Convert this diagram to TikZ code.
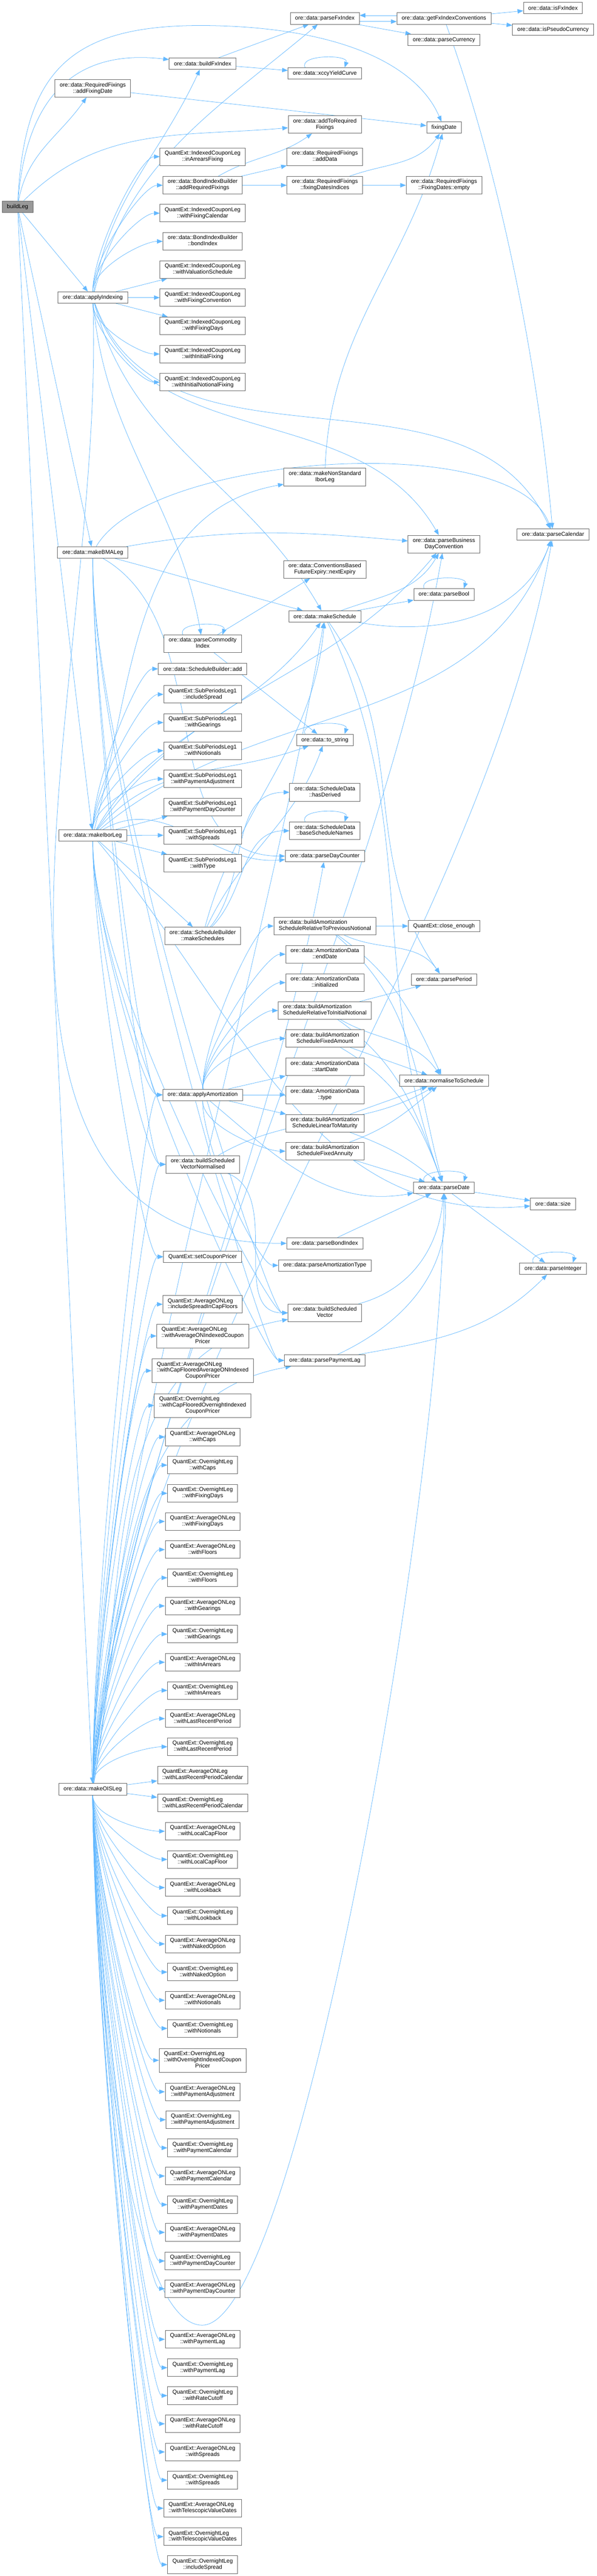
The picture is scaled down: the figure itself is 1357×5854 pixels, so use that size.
\documentclass[tikz,border=0pt]{standalone}
\usepackage{fontspec}
\setmainfont{Liberation Sans}
\usetikzlibrary{arrows.meta}
\pgfdeclarelayer{bg}
\pgfsetlayers{bg,main}
\definecolor{nodeline}{HTML}{666666}
\definecolor{calledge}{HTML}{63B8FF}
\definecolor{rootfill}{HTML}{999999}
\newcommand{\twoline}[2]{\begin{tabular}{@{}l@{}}#1\\\multicolumn{1}{@{}c@{}}{#2}\end{tabular}}
\newcommand{\threeline}[3]{\begin{tabular}{@{}l@{}}#1\\#2\\\multicolumn{1}{@{}c@{}}{#3}\end{tabular}}
\def\selfloop(#1){\draw[call] ([xshift=-11.25pt]#1.north) .. controls +(-15,-30) and +(10,-30) .. ([xshift=11.25pt]#1.north);}

\begin{document}
\begin{tikzpicture}[x=0.25pt, y=-0.25pt,
  fn/.style={draw=nodeline, fill=white, line width=0.25pt, inner xsep=2.75pt, inner ysep=0.25pt, minimum height=6.5pt, font=\fontsize{3.2}{3.5}\selectfont},
  fn2/.style={fn, minimum height=10pt},
  fn3/.style={fn, minimum height=13.5pt},
  root/.style={fn, fill=rootfill},
  call/.style={draw=calledge, line width=0.225pt, -{Triangle[length=3.25pt,width=2.5pt]}},
  every edge/.style={call},
  callup/.style={out=90, in=180, in distance=11.25pt, out looseness=0.7},
  calldown/.style={out=-90, in=180, in distance=11.25pt, out looseness=0.7}]
	%%%%% START %%%%%
	\useasboundingbox (0,0) rectangle (1357,5854);

	% root and first callees
	\node[root] (bl) at (40,470) {buildLeg};
	\node[fn2] (afd) at (211,201) {\twoline{ore::data::RequiredFixings}{::addFixingDate}};
	\node[fn] (ai) at (211,676) {ore::data::applyIndexing};
	\node[fn] (bma) at (211,1255.5) {ore::data::makeBMALeg};
	\node[fn] (ibor) at (211,1898.5) {ore::data::makeIborLeg};
	\node[fn] (ois) at (211,4066) {ore::data::makeOISLeg};

	% third column
	\node[fn] (bfx) at (461,144.5) {ore::data::buildFxIndex};
	\node[fn2] (inarr) at (461,356) {\twoline{QuantExt::IndexedCouponLeg}{::inArrearsFixing}};
	\node[fn2] (bari) at (461,421) {\twoline{ore::data::BondIndexBuilder}{::addRequiredFixings}};
	\node[fn2] (wfcal) at (461,484.5) {\twoline{QuantExt::IndexedCouponLeg}{::withFixingCalendar}};
	\node[fn2] (bidx) at (461,548.5) {\twoline{ore::data::BondIndexBuilder}{::bondIndex}};
	\node[fn2] (wvs) at (461,612.5) {\twoline{QuantExt::IndexedCouponLeg}{::withValuationSchedule}};
	\node[fn2] (wfconv) at (461,676.5) {\twoline{QuantExt::IndexedCouponLeg}{::withFixingConvention}};
	\node[fn2] (wfdays) at (461,740.5) {\twoline{QuantExt::IndexedCouponLeg}{::withFixingDays}};
	\node[fn2] (winit) at (461,804.5) {\twoline{QuantExt::IndexedCouponLeg}{::withInitialFixing}};
	\node[fn2] (winitn) at (461,868.5) {\twoline{QuantExt::IndexedCouponLeg}{::withInitialNotionalFixing}};
	\node[fn2] (pci) at (461,1463) {\twoline{ore::data::parseCommodity}{Index}};
	\node[fn] (sbadd) at (461,1520) {ore::data::ScheduleBuilder::add};
	\node[fn2] (spinc) at (461,1578) {\twoline{QuantExt::SubPeriodsLeg1}{::includeSpread}};
	\node[fn2] (spgear) at (461,1642) {\twoline{QuantExt::SubPeriodsLeg1}{::withGearings}};
	\node[fn2] (spnot) at (461,1706) {\twoline{QuantExt::SubPeriodsLeg1}{::withNotionals}};
	\node[fn2] (sppay) at (461,1770) {\twoline{QuantExt::SubPeriodsLeg1}{::withPaymentAdjustment}};
	\node[fn2] (spdc) at (461,1834) {\twoline{QuantExt::SubPeriodsLeg1}{::withPaymentDayCounter}};
	\node[fn2] (spspr) at (461,1898) {\twoline{QuantExt::SubPeriodsLeg1}{::withSpreads}};
	\node[fn2] (sptype) at (461,1962) {\twoline{QuantExt::SubPeriodsLeg1}{::withType}};
	\node[fn2] (msbs) at (461,2127) {\twoline{ore::data::ScheduleBuilder}{::makeSchedules}};
	\node[fn] (aa) at (461,2488) {ore::data::applyAmortization};
	\node[fn2] (bsvn) at (461,2646) {\twoline{ore::data::buildScheduled}{VectorNormalised}};
	\node[fn] (scp) at (461,2856) {QuantExt::setCouponPricer};
	\node[fn2] (aspcf) at (461,2964) {\twoline{QuantExt::AverageONLeg}{::includeSpreadInCapFloors}};
	\node[fn3] (aaonp) at (461,3036) {\threeline{QuantExt::AverageONLeg}{::withAverageONIndexedCoupon}{Pricer}};
	\node[fn3] (acfp) at (461,3115) {\threeline{QuantExt::AverageONLeg}{::withCapFlooredAverageONIndexed}{CouponPricer}};
	\node[fn3] (ocfp) at (461,3194) {\threeline{QuantExt::OvernightLeg}{::withCapFlooredOvernightIndexed}{CouponPricer}};
	\node[fn2] (acaps) at (461,3265.5) {\twoline{QuantExt::AverageONLeg}{::withCaps}};
	\node[fn2] (ocaps) at (461,3329.5) {\twoline{QuantExt::OvernightLeg}{::withCaps}};
	\node[fn2] (ofdays) at (461,3393.5) {\twoline{QuantExt::OvernightLeg}{::withFixingDays}};
	\node[fn2] (afdays) at (461,3457.5) {\twoline{QuantExt::AverageONLeg}{::withFixingDays}};
	\node[fn2] (aflo) at (461,3521.5) {\twoline{QuantExt::AverageONLeg}{::withFloors}};
	\node[fn2] (oflo) at (461,3585.5) {\twoline{QuantExt::OvernightLeg}{::withFloors}};
	\node[fn2] (agear) at (461,3649.5) {\twoline{QuantExt::AverageONLeg}{::withGearings}};
	\node[fn2] (ogear) at (461,3713.5) {\twoline{QuantExt::OvernightLeg}{::withGearings}};
	\node[fn2] (aarr) at (461,3777.5) {\twoline{QuantExt::AverageONLeg}{::withInArrears}};
	\node[fn2] (oarr) at (461,3841.5) {\twoline{QuantExt::OvernightLeg}{::withInArrears}};
	\node[fn2] (alrp) at (461,3905.5) {\twoline{QuantExt::AverageONLeg}{::withLastRecentPeriod}};
	\node[fn2] (olrp) at (461,3969.5) {\twoline{QuantExt::OvernightLeg}{::withLastRecentPeriod}};
	\node[fn2] (alrpc) at (461,4033.5) {\twoline{QuantExt::AverageONLeg}{::withLastRecentPeriodCalendar}};
	\node[fn2] (olrpc) at (461,4097.5) {\twoline{QuantExt::OvernightLeg}{::withLastRecentPeriodCalendar}};
	\node[fn2] (alcf) at (461,4161.5) {\twoline{QuantExt::AverageONLeg}{::withLocalCapFloor}};
	\node[fn2] (olcf) at (461,4225.5) {\twoline{QuantExt::OvernightLeg}{::withLocalCapFloor}};
	\node[fn2] (alook) at (461,4289.5) {\twoline{QuantExt::AverageONLeg}{::withLookback}};
	\node[fn2] (olook) at (461,4353.5) {\twoline{QuantExt::OvernightLeg}{::withLookback}};
	\node[fn2] (anaked) at (461,4417.5) {\twoline{QuantExt::AverageONLeg}{::withNakedOption}};
	\node[fn2] (onaked) at (461,4481.5) {\twoline{QuantExt::OvernightLeg}{::withNakedOption}};
	\node[fn2] (anot) at (461,4545.5) {\twoline{QuantExt::AverageONLeg}{::withNotionals}};
	\node[fn2] (onot) at (461,4609.5) {\twoline{QuantExt::OvernightLeg}{::withNotionals}};
	\node[fn3] (oonp) at (461,4682) {\threeline{QuantExt::OvernightLeg}{::withOvernightIndexedCoupon}{Pricer}};
	\node[fn2] (apadj) at (461,4753.5) {\twoline{QuantExt::AverageONLeg}{::withPaymentAdjustment}};
	\node[fn2] (opadj) at (461,4817) {\twoline{QuantExt::OvernightLeg}{::withPaymentAdjustment}};
	\node[fn2] (opcal) at (461,4881) {\twoline{QuantExt::OvernightLeg}{::withPaymentCalendar}};
	\node[fn2] (apcal) at (461,4945) {\twoline{QuantExt::AverageONLeg}{::withPaymentCalendar}};
	\node[fn2] (opdates) at (461,5010) {\twoline{QuantExt::OvernightLeg}{::withPaymentDates}};
	\node[fn2] (apdates) at (461,5073) {\twoline{QuantExt::AverageONLeg}{::withPaymentDates}};
	\node[fn2] (opdc) at (461,5138) {\twoline{QuantExt::OvernightLeg}{::withPaymentDayCounter}};
	\node[fn2] (apdc) at (461,5201) {\twoline{QuantExt::AverageONLeg}{::withPaymentDayCounter}};
	\node[fn2] (aplag) at (461,5316) {\twoline{QuantExt::AverageONLeg}{::withPaymentLag}};
	\node[fn2] (oplag) at (461,5380.5) {\twoline{QuantExt::OvernightLeg}{::withPaymentLag}};
	\node[fn2] (orc) at (461,5444) {\twoline{QuantExt::OvernightLeg}{::withRateCutoff}};
	\node[fn2] (arc) at (461,5508) {\twoline{QuantExt::AverageONLeg}{::withRateCutoff}};
	\node[fn2] (aspr) at (461,5572) {\twoline{QuantExt::AverageONLeg}{::withSpreads}};
	\node[fn2] (ospr) at (461,5636) {\twoline{QuantExt::OvernightLeg}{::withSpreads}};
	\node[fn2] (atvd) at (461,5700) {\twoline{QuantExt::AverageONLeg}{::withTelescopicValueDates}};
	\node[fn2] (otvd) at (461,5764.5) {\twoline{QuantExt::OvernightLeg}{::withTelescopicValueDates}};
	\node[fn2] (oinc) at (461,5828) {\twoline{QuantExt::OvernightLeg}{::includeSpread}};

	% fourth column
	\node[fn] (pfx) at (739,42) {ore::data::parseFxIndex};
	\node[fn] (xccy) at (739,167) {ore::data::xccyYieldCurve};
	\node[fn2] (atrf) at (739,283) {\twoline{ore::data::addToRequired}{Fixings}};
	\node[fn2] (adddata) at (739,356) {\twoline{ore::data::RequiredFixings}{::addData}};
	\node[fn2] (fdi) at (739,421) {\twoline{ore::data::RequiredFixings}{::fixingDatesIndices}};
	\node[fn2] (nsib) at (739,1084) {\twoline{ore::data::makeNonStandard}{IborLeg}};
	\node[fn2] (nexp) at (739,1294) {\twoline{ore::data::ConventionsBased}{FutureExpiry::nextExpiry}};
	\node[fn] (msch) at (739,1401) {ore::data::makeSchedule};
	\node[fn] (tostr) at (739,1681.5) {ore::data::to\_string};
	\node[fn2] (hasder) at (739,1800.5) {\twoline{ore::data::ScheduleData}{::hasDerived}};
	\node[fn2] (basen) at (739,1888) {\twoline{ore::data::ScheduleData}{::baseScheduleNames}};
	\node[fn] (pdc) at (739,1945.5) {ore::data::parseDayCounter};
	\node[fn2] (arprev) at (739,2104.5) {\twoline{ore::data::buildAmortization}{ScheduleRelativeToPreviousNotional}};
	\node[fn2] (aend) at (739,2168.5) {\twoline{ore::data::AmortizationData}{::endDate}};
	\node[fn2] (ainit) at (739,2233) {\twoline{ore::data::AmortizationData}{::initialized}};
	\node[fn2] (arinit) at (739,2296.5) {\twoline{ore::data::buildAmortization}{ScheduleRelativeToInitialNotional}};
	\node[fn2] (afixa) at (739,2360) {\twoline{ore::data::buildAmortization}{ScheduleFixedAmount}};
	\node[fn2] (astart) at (739,2424.5) {\twoline{ore::data::AmortizationData}{::startDate}};
	\node[fn2] (atype) at (739,2488) {\twoline{ore::data::AmortizationData}{::type}};
	\node[fn2] (alin) at (739,2552.5) {\twoline{ore::data::buildAmortization}{ScheduleLinearToMaturity}};
	\node[fn2] (aann) at (739,2616) {\twoline{ore::data::buildAmortization}{ScheduleFixedAnnuity}};
	\node[fn] (pbidx) at (739,2825.5) {ore::data::parseBondIndex};
	\node[fn] (pamt) at (739,2875.5) {ore::data::parseAmortizationType};
	\node[fn2] (bsv) at (739,2983.5) {\twoline{ore::data::buildScheduled}{Vector}};
	\node[fn] (plag) at (739,3091.5) {ore::data::parsePaymentLag};

	% fifth column
	\node[fn] (gfc) at (1010,42) {ore::data::getFxIndexConventions};
	\node[fn] (pcur) at (1010,91) {ore::data::parseCurrency};
	\node[fn] (fixd) at (1010,290) {fixingDate};
	\node[fn2] (fdempty) at (1010,421) {\twoline{ore::data::RequiredFixings}{::FixingDates::empty}};
	\node[fn2] (pbdc) at (1010,1236.5) {\twoline{ore::data::parseBusiness}{DayConvention}};
	\node[fn] (pbool) at (1010,1351) {ore::data::parseBool};
	\node[fn] (cleq) at (1010,2104.5) {QuantExt::close\_enough};
	\node[fn] (pper) at (1010,2226) {ore::data::parsePeriod};
	\node[fn] (nts) at (1010,2456) {ore::data::normaliseToSchedule};
	\node[fn] (pdate) at (1010,2699) {ore::data::parseDate};

	% last column
	\node[fn] (isfx) at (1258,18) {ore::data::isFxIndex};
	\node[fn] (ispc) at (1258,67) {ore::data::isPseudoCurrency};
	\node[fn] (pcal) at (1258,1215) {ore::data::parseCalendar};
	\node[fn] (size) at (1258,2736) {ore::data::size};
	\node[fn] (pint) at (1258,2883) {ore::data::parseInteger};

	\begin{pgfonlayer}{bg}
	% buildLeg
	\draw[call] (bl) .. controls (55,160) and (160,55) .. (470,58) .. controls (780,62) and (950,150) .. (fixd);
	\draw[call] (bl) .. controls (60,220) and (170,110) .. (bfx);
	\path (bl) edge[out=80,in=-125] (afd) edge[out=45,in=185] (atrf) edge (ai) edge (bma) edge (ibor) edge (ois);

	% applyIndexing
	\path (ai) edge[out=80,in=-115] (bfx) edge[out=75,in=-140] (pfx)
		edge[callup] (inarr) edge[callup] (bari) edge[callup] (wfcal) edge[callup] (bidx) edge (wvs)
		edge (wfconv) edge (wfdays) edge[calldown] (winit) edge[calldown] (winitn)
		edge[out=-70,in=115] (pcal) edge[out=-72,in=120] (pbdc) edge[out=-75,in=120] (msch)
		edge[out=-85,in=100] (pci) edge[out=-88,in=180] (pbidx);

	% makeBMALeg
	\path (bma) edge[out=60,in=110,looseness=0.6] (pcal) edge[out=10,in=175] (pbdc) edge[out=-15,in=165] (msch)
		edge[out=-30,in=180] (pdc) edge[calldown] (aa) edge[calldown] (bsvn) edge[calldown] (bsv) edge[calldown] (plag);

	% makeIborLeg
	\path (ibor) edge[callup] (sbadd) edge[callup] (spinc) edge[callup] (spgear) edge[callup] (spnot) edge[callup] (sppay)
		edge (spdc) edge (spspr) edge (sptype) edge (msbs)
		edge[out=75,in=190] (nsib) edge[out=60,in=235] (msch) edge[out=50,in=200] (tostr)
		edge[out=30,in=185] (pdc) edge[out=55,in=230] (pbdc) edge[out=40,in=250] (pcal)
		edge[calldown] (aa) edge[calldown] (bsvn) edge[calldown] (bsv) edge[calldown] (scp) edge[calldown] (plag)
		edge[out=-50,in=185] (size);

	% makeOISLeg
	\path (ois) edge[callup] (scp) edge[callup] (aa) edge[callup] (bsvn)
		edge[out=85,in=-100,looseness=0.8] (pcal) edge[out=85,in=-100,looseness=0.8] (pbdc)
		edge[out=85,in=-100,looseness=0.8] (pdc) edge[out=85,in=-100,looseness=0.8] (msch)
		edge[out=80,in=190] (bsv) edge[out=80,in=190] (plag)
		edge[callup] (aspcf) edge[callup] (aaonp) edge[callup] (acfp) edge[callup] (ocfp)
		edge[callup] (acaps) edge[callup] (ocaps) edge[callup] (ofdays) edge[callup] (afdays)
		edge[callup] (aflo) edge[callup] (oflo) edge[callup] (agear) edge[callup] (ogear)
		edge[callup] (aarr) edge[callup] (oarr) edge[callup] (alrp) edge[callup] (olrp)
		edge (alrpc) edge (olrpc)
		edge[calldown] (alcf) edge[calldown] (olcf) edge[calldown] (alook) edge[calldown] (olook)
		edge[calldown] (anaked) edge[calldown] (onaked) edge[calldown] (anot) edge[calldown] (onot)
		edge[calldown] (oonp) edge[calldown] (apadj) edge[calldown] (opadj) edge[calldown] (opcal)
		edge[calldown] (apcal) edge[calldown] (opdates) edge[calldown] (apdates) edge[calldown] (opdc)
		edge[calldown] (apdc) edge[calldown] (aplag) edge[calldown] (oplag) edge[calldown] (orc)
		edge[calldown] (arc) edge[calldown] (aspr) edge[calldown] (ospr) edge[calldown] (atvd)
		edge[calldown] (otvd) edge[calldown] (oinc);
	\draw[call] (ois) .. controls (225,4800) and (330,5284) .. (460,5284) .. controls (680,5284) and (1005,3400) .. (pdate);

	% fx and fixings
	\path (bfx) edge (pfx) edge (xccy);
	\draw[call] ([yshift=-1.75pt]pfx.east) -- ([yshift=-1.75pt]gfc.west);
	\draw[call] ([yshift=1.75pt]gfc.west) -- ([yshift=1.75pt]pfx.east);
	\path (pfx) edge (pcur);
	\path (gfc) edge (isfx) edge (ispc) edge[out=-70,in=95,looseness=0.8] (pcal);
	\path (afd) edge (fixd);
	\path (bari) edge[out=30,in=-145] (atrf) edge (adddata) edge (fdi);
	\path (fdi) edge[out=20,in=-125] (fixd) edge (fdempty);
	\path (nsib) edge[out=88,in=-105] (fixd);

	% schedules
	\path (pci) edge (tostr) edge (nexp);
	\path (msch) edge (pbool) edge[out=20,in=-120] (pbdc) edge[out=-10,in=-110] (pcal)
		edge[out=-55,in=125] (pper) edge[out=-65,in=110] (pdate);
	\path (msbs) edge[out=50,in=180] (hasder) edge[out=45,in=180] (basen) edge[out=75,in=-95] (msch) edge[out=65,in=-110] (tostr);

	% amortization
	\path (aa) edge[callup] (arprev) edge[callup] (aend) edge[callup] (ainit) edge[callup] (arinit) edge[callup] (afixa)
		edge (astart) edge (atype) edge (alin) edge[calldown] (aann)
		edge[out=-40,in=190] (pdate) edge[calldown] (pamt);
	\path (arprev) edge (cleq) edge[out=-25,in=125] (pper) edge[out=-40,in=105] (pdate) edge[out=-35,in=115] (nts);
	\path (arinit) edge (pper) edge[out=-35,in=110] (pdate) edge[out=-30,in=125] (nts);
	\path (afixa) edge (nts) edge[out=-30,in=110] (pdate);
	\path (alin) edge (nts) edge[out=-20,in=140] (pdate);
	\path (aann) edge[out=20,in=-140] (nts) edge (pdate);
	\path (bsvn) edge[out=-20,in=180] (bsv) edge[out=30,in=-150] (nts);
	\path (bsv) edge[out=15,in=-95] (pdate);
	\path (pbidx) edge (pdate);
	\path (plag) edge[out=10,in=-135] (pint) edge[out=25,in=-85] (pdate);
	\path (pdate) edge (size) edge (pint);

	% self calls
	\selfloop(xccy)
	\selfloop(pbool)
	\selfloop(pci)
	\selfloop(tostr)
	\selfloop(basen)
	\selfloop(pdate)
	\selfloop(pint)
	\end{pgfonlayer}
	%%%%% END %%%%%
\end{tikzpicture}
\end{document}
